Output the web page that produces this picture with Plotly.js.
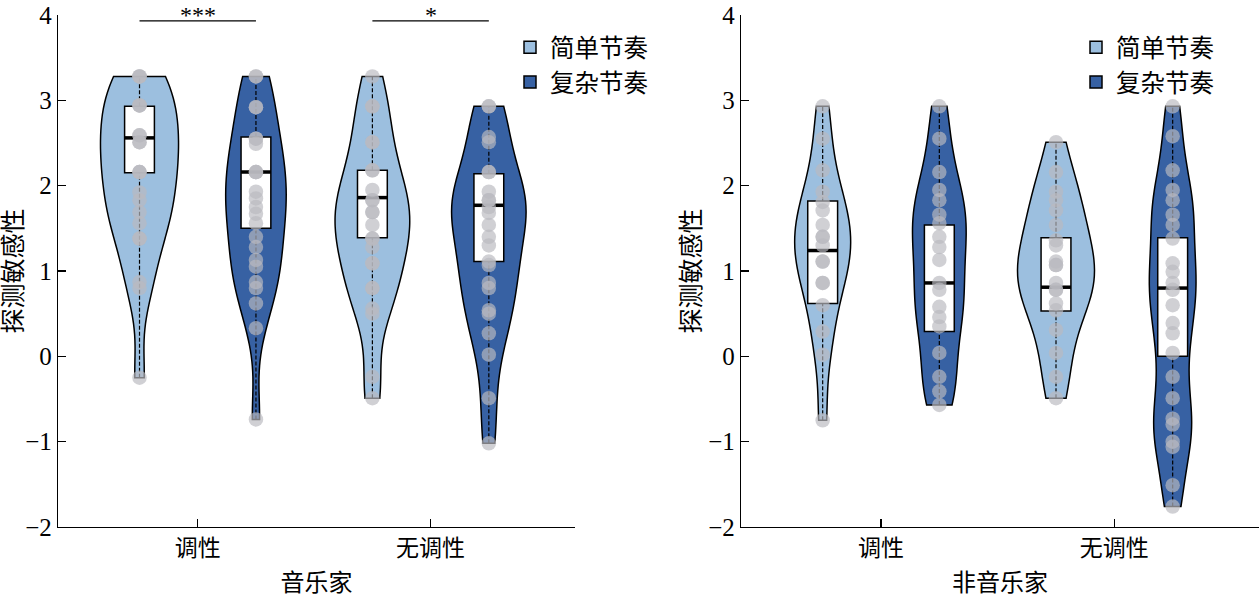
<!DOCTYPE html>
<html>
<head>
<meta charset="utf-8">
<script src="https://cdn.plot.ly/plotly-3.0.1.min.js"></script>
<style>html,body{margin:0;padding:0;background:#fff;}#chart{width:1259px;height:598px;}</style>
</head>
<body>
<div id="chart"></div>
<script>
// ---------- data ----------
const categories = ['调性', '无调性'];
const panelTitles = ['音乐家', '非音乐家'];
const rhythms = ['简单节奏', '复杂节奏'];
const yTitle = '探测敏感性';

// musicians
const musTonalSimple   = [3.28,3.28,3.28,2.94,2.94,2.94,2.59,2.59,2.51,2.51,2.16,2.16,2.16,1.92,1.83,1.69,1.56,1.38,1.38,0.87,0.80,-0.25];
const musTonalComplex  = [3.28,3.28,2.92,2.92,2.55,2.55,2.49,2.16,2.16,2.16,1.93,1.85,1.75,1.67,1.56,1.40,1.28,1.13,1.05,0.87,0.80,0.62,0.33,-0.74];
const musAtonalSimple  = [3.28,2.93,2.93,2.51,2.51,2.18,2.18,1.95,1.83,1.83,1.69,1.69,1.54,1.38,1.38,1.28,1.09,1.09,0.80,0.80,0.56,0.50,-0.24,-0.49];
const musAtonalComplex = [2.93,2.93,2.57,2.51,2.16,2.16,1.93,1.83,1.83,1.75,1.68,1.54,1.40,1.30,1.11,1.07,0.86,0.80,0.54,0.50,0.27,0.02,-0.49,-1.02];
// non-musicians
const nonTonalSimple   = [2.93,2.55,2.18,1.93,1.81,1.71,1.54,1.40,1.40,1.30,1.11,1.11,0.86,0.86,0.60,0.29,0.02,-0.75];
const nonTonalComplex  = [2.93,2.55,2.16,1.95,1.83,1.66,1.56,1.40,1.28,1.13,0.86,0.78,0.58,0.46,0.35,0.04,-0.24,-0.41,-0.57];
const nonAtonalSimple  = [2.51,2.16,1.93,1.83,1.71,1.54,1.36,1.30,1.11,1.07,1.07,0.86,0.78,0.78,0.62,0.54,0.31,0.04,-0.24,-0.49];
const nonAtonalComplex = [2.93,2.58,2.18,1.95,1.83,1.66,1.54,1.38,1.09,0.99,0.86,0.78,0.60,0.39,0.27,0.04,-0.24,-0.49,-0.73,-0.80,-1.00,-1.06,-1.51,-1.76];

// box statistics, order: tonal-simple, tonal-complex, atonal-simple, atonal-complex
const musQ1     = [2.15, 1.50, 1.39, 1.11];
const musMedian = [2.56, 2.16, 1.86, 1.77];
const musQ3     = [2.93, 2.57, 2.18, 2.14];
const nonQ1     = [0.62, 0.29, 0.53, 0.00];
const nonMedian = [1.24, 0.86, 0.81, 0.80];
const nonQ3     = [1.82, 1.54, 1.39, 1.39];

// significance labels (musicians panel)
const sigLabels = ['***', '*'];

// ---------- style ----------
const colors = ['#9cbfdf', '#3761a3'];
const offsets = [-0.25, 0.25];
const violinWidths = [[0.335, 0.26, 0.32, 0.32], [0.24, 0.23, 0.33, 0.20]];
const boxWidth = 0.128;
const medHalf = boxWidth / 2;
const FONT = "'Liberation Serif', 'Noto Sans CJK SC', serif";

const panels = [
  {xa: 'x',  ya: 'y',  legend: 'legend',  series: [musTonalSimple, musTonalComplex, musAtonalSimple, musAtonalComplex], q1: musQ1, med: musMedian, q3: musQ3},
  {xa: 'x2', ya: 'y2', legend: 'legend2', series: [nonTonalSimple, nonTonalComplex, nonAtonalSimple, nonAtonalComplex], q1: nonQ1, med: nonMedian, q3: nonQ3}
];

const traces = [];
panels.forEach((p, pi) => {
  p.series.forEach((vals, si) => {
    const cat = Math.floor(si / 2);
    const r = si % 2;
    const pos = cat + offsets[r];
    const common = {xaxis: p.xa, yaxis: p.ya, hoverinfo: 'skip'};
    // violin body
    traces.push(Object.assign({
      type: 'violin', x0: pos, y: vals, name: rhythms[r],
      legend: p.legend, legendgroup: p.legend + r, showlegend: cat === 0,
      width: violinWidths[pi][si], spanmode: 'hard', scalemode: 'width', bandwidth: 0.38,
      fillcolor: colors[r], line: {color: 'black', width: 1.5},
      points: false, box: {visible: false}, meanline: {visible: false}, opacity: 1
    }, common));
    // dashed whisker line (min → Q1, Q3 → max)
    const mn = Math.min(...vals), mx = Math.max(...vals);
    traces.push(Object.assign({
      type: 'scatter', mode: 'lines', showlegend: false,
      x: [pos, pos, null, pos, pos], y: [mn, p.q1[si], null, p.q3[si], mx],
      line: {color: 'black', width: 1.2, dash: '4px,2px'}
    }, common));
    // box
    traces.push(Object.assign({
      type: 'box', showlegend: false, x: [pos],
      q1: [p.q1[si]], median: [p.med[si]], q3: [p.q3[si]],
      lowerfence: [p.q1[si]], upperfence: [p.q3[si]],
      width: boxWidth, whiskerwidth: 0, boxpoints: false,
      fillcolor: 'white', line: {color: 'black', width: 1.5}
    }, common));
    // thick median
    traces.push(Object.assign({
      type: 'scatter', mode: 'lines', showlegend: false,
      x: [pos - medHalf, pos + medHalf], y: [p.med[si], p.med[si]],
      line: {color: 'black', width: 3.5}
    }, common));
    // individual points
    traces.push(Object.assign({
      type: 'scatter', mode: 'markers', showlegend: false,
      x: vals.map(() => pos), y: vals, cliponaxis: false,
      marker: {size: 14.5, color: 'rgba(186,186,192,0.68)', line: {width: 0}}
    }, common));
  });
});

function xAxis(domain, title) {
  return {
    domain: domain, range: [-0.6, 1.62], tickmode: 'array', tickvals: [0, 1], ticktext: categories,
    ticks: 'inside', ticklen: 8, tickwidth: 1.2, tickcolor: 'black',
    showline: true, linecolor: 'black', linewidth: 1.2, mirror: false,
    showgrid: false, zeroline: false, automargin: false,
    tickfont: {family: FONT, size: 23, color: 'black'},
    title: {text: title, font: {family: FONT, size: 24, color: 'black'}, standoff: 14}
  };
}
function yAxis(anchor) {
  return {
    anchor: anchor, domain: [0, 1], range: [-2, 4], dtick: 1, tick0: 0,
    ticks: 'inside', ticklen: 8, tickwidth: 1.2, tickcolor: 'black',
    showline: true, linecolor: 'black', linewidth: 1.2,
    showgrid: false, zeroline: false, automargin: false,
    tickfont: {family: FONT, size: 25, color: 'black'},
    title: {text: yTitle, font: {family: FONT, size: 25, color: 'black'}, standoff: 0}
  };
}

const legendStyle = (x) => ({
  x: x, y: 0.981, xanchor: 'left', yanchor: 'top', bgcolor: 'rgba(0,0,0,0)',
  font: {family: FONT, size: 24.5, color: 'black'}, tracegroupgap: 0, itemclick: false
});

const layout = {
  width: 1259, height: 598,
  margin: {l: 0, r: 0, t: 15, b: 71},
  paper_bgcolor: 'white', plot_bgcolor: 'white',
  font: {family: FONT, size: 23, color: 'black'},
  violinmode: 'overlay', boxmode: 'overlay',
  showlegend: true,
  xaxis: Object.assign(xAxis([58 / 1259, 575 / 1259], panelTitles[0]), {anchor: 'y'}),
  yaxis: yAxis('x'),
  xaxis2: Object.assign(xAxis([741 / 1259, 1], panelTitles[1]), {anchor: 'y2'}),
  yaxis2: yAxis('x2'),
  legend: legendStyle(510 / 1259),
  legend2: legendStyle(1076 / 1259),
  shapes: [0, 1].map(c => ({
    type: 'line', xref: 'x', yref: 'y', x0: c + offsets[0], x1: c + offsets[1], y0: 3.93, y1: 3.93,
    line: {color: 'black', width: 1.2}
  })),
  annotations: [0, 1].map(c => ({
    xref: 'x', yref: 'paper', x: c, y: 1.029, text: sigLabels[c], showarrow: false,
    yanchor: 'top', font: {family: FONT, size: 24, color: 'black'}
  }))
};

Plotly.newPlot('chart', traces, layout, {staticPlot: true, displayModeBar: false});
</script>
</body>
</html>
